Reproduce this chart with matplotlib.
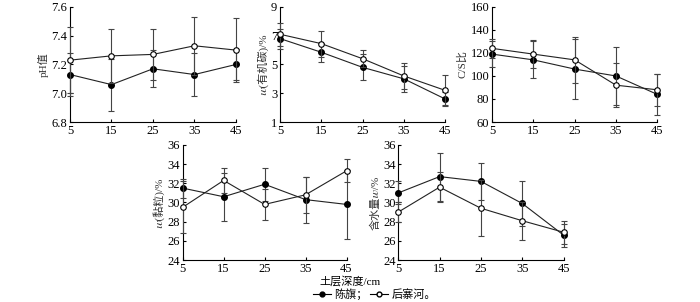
import numpy as np
import matplotlib.pyplot as plt
from matplotlib.lines import Line2D

plt.rcParams['font.family'] = ['Liberation Serif', 'Noto Sans CJK SC', 'STIXGeneral']

depth = [5, 15, 25, 35, 45]

# pH
ph_cq = [7.13, 7.06, 7.17, 7.13, 7.20]
ph_cq_err = [0.15, 0.18, 0.13, 0.15, 0.11]
ph_hz = [7.23, 7.26, 7.27, 7.33, 7.30]
ph_hz_err = [0.23, 0.19, 0.18, 0.20, 0.22]

# organic carbon
oc_cq = [6.8, 5.85, 4.8, 4.0, 2.6]
oc_cq_err = [0.7, 0.65, 0.9, 0.9, 0.5]
oc_hz = [7.1, 6.45, 5.4, 4.2, 3.2]
oc_hz_err = [0.8, 0.9, 0.6, 0.9, 1.05]

# C/S
cs_cq = [119, 114, 106, 100, 84]
cs_cq_err = [11, 16, 26, 25, 18]
cs_hz = [124, 119, 114, 92, 88]
cs_hz_err = [8, 12, 20, 19, 14]

# clay
cl_cq = [31.5, 30.6, 31.9, 30.3, 29.8]
cl_cq_err = [1.0, 2.5, 1.7, 2.4, 3.6]
cl_hz = [29.5, 32.3, 29.8, 30.8, 33.3]
cl_hz_err = [2.7, 1.3, 1.6, 1.9, 1.2]

# water content
wc_cq = [31.0, 32.7, 32.2, 29.9, 26.6]
wc_cq_err = [1.2, 2.5, 1.9, 2.3, 1.2]
wc_hz = [29.0, 31.6, 29.4, 28.1, 26.9]
wc_hz_err = [1.0, 1.6, 2.9, 2.0, 1.2]

# italic w from the math alphanumerics block
w = '\U0001D464'

panels = [
    ([0.100, 0.596, 0.237, 0.381], ph_cq, ph_cq_err, ph_hz, ph_hz_err,
     'pH值', (6.8, 7.6), np.arange(6.8, 7.61, 0.2), '%.1f'),
    ([0.400, 0.596, 0.236, 0.381], oc_cq, oc_cq_err, oc_hz, oc_hz_err,
     w + '(有机碳)/%', (1, 9), [1, 3, 5, 7, 9], '%d'),
    ([0.703, 0.596, 0.236, 0.381], cs_cq, cs_cq_err, cs_hz, cs_hz_err,
     'C/S比', (60, 160), range(60, 161, 20), '%d'),
    ([0.261, 0.139, 0.234, 0.381], cl_cq, cl_cq_err, cl_hz, cl_hz_err,
     w + '(黏粒)/%', (24, 36), range(24, 37, 2), '%d'),
    ([0.569, 0.139, 0.236, 0.381], wc_cq, wc_cq_err, wc_hz, wc_hz_err,
     '含水量' + w + '/%', (24, 36), range(24, 37, 2), '%d'),
]

fig = plt.figure(figsize=(7, 3.02), dpi=100)

for rect, cq, cqe, hz, hze, lab, ylim, yt, fmt in panels:
    ax = fig.add_axes(rect)
    ax.errorbar(depth, cq, yerr=cqe, color='#222222', lw=0.8, marker='o',
                ms=4, mfc='black', mec='black', ecolor='#444444',
                elinewidth=0.8, capsize=2, capthick=0.8, clip_on=False, zorder=3)
    ax.errorbar(depth, hz, yerr=hze, color='#222222', lw=0.8, marker='o',
                ms=4, mfc='white', mec='black', mew=0.8, ecolor='#444444',
                elinewidth=0.8, capsize=2, capthick=0.8, clip_on=False, zorder=4)
    ax.set_xlim(5, 45)
    ax.set_xticks(depth)
    ax.set_ylim(*ylim)
    ax.set_yticks(list(yt))
    ax.yaxis.set_major_formatter(plt.FormatStrFormatter(fmt))
    ax.spines['top'].set_visible(False)
    ax.spines['right'].set_visible(False)
    ax.spines['left'].set_linewidth(0.8)
    ax.spines['bottom'].set_linewidth(0.8)
    ax.tick_params(direction='in', length=2.5, width=0.8, labelsize=9, pad=2)
    ax.set_ylabel(lab, fontsize=8, labelpad=2, color='#333333')

fig.text(0.5, 0.068, '土层深度/cm', ha='center', va='center', fontsize=8)

handles = [
    Line2D([], [], color='black', lw=0.8, marker='o', ms=3.5, mfc='black'),
    Line2D([], [], color='black', lw=0.8, marker='o', ms=3.5, mfc='white'),
]
fig.legend(handles, ['陈旗；', '后寨河。'], loc='center', ncol=2,
           bbox_to_anchor=(0.535, 0.027), frameon=False, fontsize=8,
           handlelength=1.6, handletextpad=0.3, columnspacing=0.2,
           borderpad=0)

fig.savefig('out.png', dpi=100)
